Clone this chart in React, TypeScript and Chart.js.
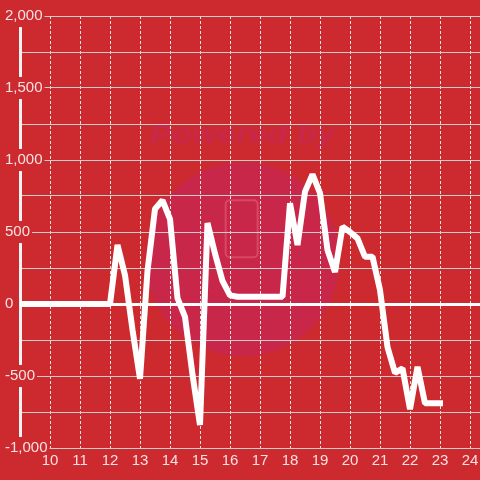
import React, { useEffect, useRef } from 'react';
import { Chart, registerables } from 'chart.js';

Chart.register(...registerables);

// ---- data ----
const hours = [
  9, 12, 12.25, 12.5, 12.75, 13, 13.25, 13.5, 13.75, 14, 14.25, 14.5, 14.75, 15,
  15.25, 15.5, 15.75, 16, 16.25, 17.75, 18, 18.25, 18.5, 18.75, 19, 19.25, 19.5,
  19.75, 20, 20.25, 20.5, 20.75, 21, 21.25, 21.5, 21.75, 22, 22.25, 22.5, 23,
];
const values = [
  0, 0, 410, 200, -180, -520, 230, 660, 720, 590, 40, -90, -490, -840,
  562, 350, 160, 60, 50, 50, 700, 410, 780, 900, 770, 375, 222,
  537, 500, 456, 328, 328, 97, -300, -478, -447, -730, -436, -690, -690,
];
const xTickValues = [10, 11, 12, 13, 14, 15, 16, 17, 18, 19, 20, 21, 22, 23, 24];
const yMin = -1000;
const yMax = 2000;
const yGridStep = 250;
const yLabelStep = 500;

const BG = '#cc2a2f';
const FONT = '"Liberation Sans", Arial, sans-serif';
const LABEL_COLOR = 'rgba(255,255,255,0.86)';

const watermark = {
  id: 'watermark',
  beforeDraw(chart: any) {
    const { ctx, chartArea } = chart;
    ctx.save();
    ctx.fillStyle = BG;
    ctx.fillRect(0, 0, chart.width, chart.height);
    const cx = chartArea.left + (chartArea.right - chartArea.left) * 0.484;
    const cy = chartArea.top + (chartArea.bottom - chartArea.top) * 0.563;
    ctx.beginPath();
    ctx.arc(cx, cy, 97, 0, Math.PI * 2);
    ctx.fillStyle = '#c9274a';
    ctx.fill();
    // "Powered by"
    ctx.font = `italic bold 26px ${FONT}`;
    ctx.fillStyle = '#c8284a';
    ctx.textBaseline = 'alphabetic';
    const txt = 'Powered by';
    const w = ctx.measureText(txt).width;
    const target = 185;
    ctx.translate(cx - target / 2, cy - 116);
    ctx.scale(target / w, 1);
    ctx.fillText(txt, 0, 0);
    ctx.setTransform(1, 0, 0, 1, 0, 0);
    // faint logo outline
    ctx.strokeStyle = 'rgba(235,110,130,0.45)';
    ctx.lineWidth = 2;
    ctx.beginPath();
    if ((ctx as any).roundRect) {
      (ctx as any).roundRect(cx - 17, cy - 59, 32, 57, 4);
    } else {
      ctx.rect(cx - 17, cy - 59, 32, 57);
    }
    ctx.stroke();
    ctx.restore();
  },
};

export default function App() {
  const ref = useRef<HTMLCanvasElement | null>(null);

  useEffect(() => {
    document.body.style.margin = '0';
    document.body.style.background = BG;
    const canvas = ref.current;
    if (!canvas) return;
    const chart = new Chart(canvas, {
      type: 'line',
      data: {
        datasets: [
          {
            data: hours.map((h, i) => ({ x: h, y: values[i] })),
            borderColor: '#ffffff',
            borderWidth: 6,
            borderCapStyle: 'square',
            borderJoinStyle: 'bevel',
            pointRadius: 0,
            fill: false,
            tension: 0,
          },
        ],
      },
      options: {
        responsive: false,
        animation: false,
        events: [],
        layout: { padding: { left: 5, top: 16, right: 0, bottom: 10 } },
        plugins: {
          legend: { display: false },
          tooltip: { enabled: false },
        },
        scales: {
          x: {
            type: 'linear',
            min: 9,
            max: 24.333,
            afterBuildTicks: (s: any) => {
              s.ticks = xTickValues.map((v) => ({ value: v }));
            },
            ticks: {
              z: 1,
              color: LABEL_COLOR,
              font: { size: 15, family: FONT },
              padding: 0,
              autoSkip: false,
              maxRotation: 0,
              callback: (v: any) => String(v),
            },
            grid: {
              color: '#e9e4e4',
              lineWidth: 1,
              drawTicks: true,
              tickLength: 4,
              tickColor: 'rgba(0,0,0,0)',
            },
            border: { display: false, dash: [3, 2] },
          },
          y: {
            type: 'linear',
            min: yMin,
            max: yMax,
            afterFit: (s: any) => {
              s.width = 15;
            },
            ticks: {
              stepSize: yGridStep,
              color: LABEL_COLOR,
              font: { size: 15, family: FONT },
              mirror: true,
              padding: -15,
              crossAlign: 'near',
              showLabelBackdrop: true,
              backdropColor: BG,
              backdropPadding: 2,
              callback: (v: any) =>
                Number(v) % yLabelStep === 0 ? Number(v).toLocaleString('en-US') : '',
            },
            grid: {
              drawTicks: false,
              color: (c: any) => (c.tick && c.tick.value === 0 ? '#ffffff' : '#d2cdcd'),
              lineWidth: (c: any) => (c.tick && c.tick.value === 0 ? 3 : 1),
            },
            border: { display: true, color: '#f3f3f3', width: 3 },
          },
        },
      },
      plugins: [watermark],
    } as any);
    return () => chart.destroy();
  }, []);

  return (
    <div style={{ width: 480, height: 480 }}>
      <canvas ref={ref} width={480} height={480} style={{ display: 'block' }} />
    </div>
  );
}
